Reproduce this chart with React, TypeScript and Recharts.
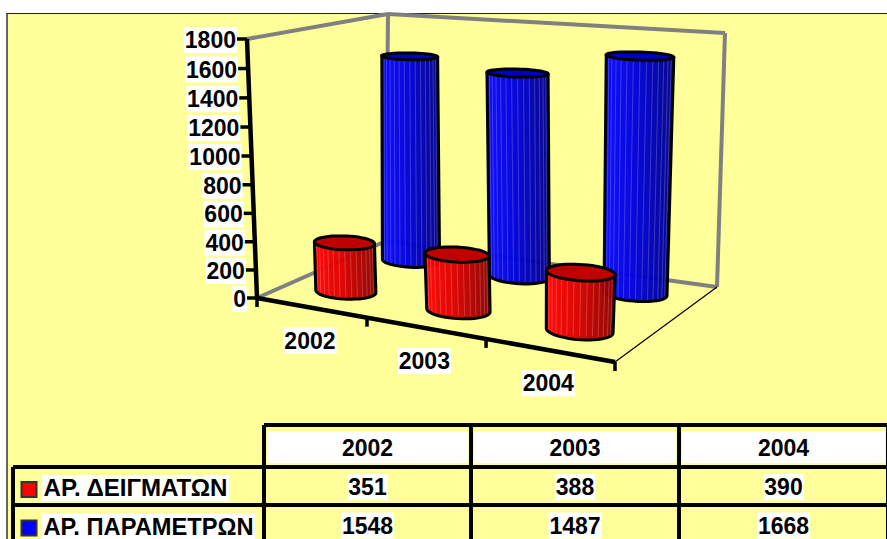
import { BarChart, Bar, XAxis, YAxis } from 'recharts'

const categories = ['2002', '2003', '2004']
const samples = [351, 388, 390]
const parameters = [1548, 1487, 1668]
const yTicks = [0, 200, 400, 600, 800, 1000, 1200, 1400, 1600, 1800]
const sampleLabel = 'ΑΡ. ΔΕΙΓΜΑΤΩΝ'
const parameterLabel = 'ΑΡ. ΠΑΡΑΜΕΤΡΩΝ'

const chartRows = categories.map((year, i) => ({ year, samples: samples[i], parameters: parameters[i] }))

const FONT = '"Liberation Sans", Arial, sans-serif'
const FS = 23
const PLOT = { left: 257, top: 39, width: 358, height: 259 }

type Pt = [number, number]

// homography from the unit square onto a quad: front-left, front-right, back-right, back-left
function quadMap([p0, p1, p2, p3]: Pt[]) {
  const dx1 = p1[0] - p2[0], dx2 = p3[0] - p2[0], dx3 = p0[0] - p1[0] + p2[0] - p3[0]
  const dy1 = p1[1] - p2[1], dy2 = p3[1] - p2[1], dy3 = p0[1] - p1[1] + p2[1] - p3[1]
  const den = dx1 * dy2 - dx2 * dy1
  const g = (dx3 * dy2 - dx2 * dy3) / den
  const h = (dx1 * dy3 - dx3 * dy1) / den
  const a = p1[0] - p0[0] + g * p1[0], b = p3[0] - p0[0] + h * p3[0]
  const d = p1[1] - p0[1] + g * p1[1], e = p3[1] - p0[1] + h * p3[1]
  return (u: number, v: number): Pt => {
    const w = g * u + h * v + 1
    return [(a * u + b * v + p0[0]) / w, (d * u + e * v + p0[1]) / w]
  }
}

const floorAt = quadMap([[257, 298], [615, 362], [717, 287], [386, 241]])
const ceilAt = quadMap([[247, 39], [630, 76], [725, 33], [388, 14]])

// u runs along the category axis, v into the depth of the box, z up the value axis.
// Both u and z get a little extra foreshortening on top of the two quads.
function project(u: number, v: number, z: number): Pt {
  const bend = u * (1 - u)
  const zz = z / (1.03 - 0.03 * z)
  const f = floorAt(u + 0.055 * bend, v)
  const c = ceilAt(u + 0.115 * bend, v)
  return [f[0] + (c[0] - f[0]) * zz, f[1] + (c[1] - f[1]) * zz]
}

const line = (a: Pt, b: Pt) => ({ x1: a[0], y1: a[1], x2: b[0], y2: b[1] })
const toPath = (pts: Pt[]) => pts.map((p, i) => `${i ? 'L' : 'M'}${p[0].toFixed(1)} ${p[1].toFixed(1)}`).join(' ')

function Cylinder({ x, width, height, depth, series }: any) {
  const u = (x + width / 2 - PLOT.left) / PLOT.width
  const z = height / PLOT.height
  const n = 48
  const ring = (zz: number) =>
    Array.from({ length: n }, (_, i) => {
      const t = (i / n) * Math.PI * 2
      return project(u + 0.083 * Math.cos(t), depth + 0.1 * Math.sin(t), zz)
    })
  const base = ring(0)
  const top = ring(z)
  let li = 0, ri = 0
  base.forEach((p, i) => {
    if (p[0] < base[li][0]) li = i
    if (p[0] > base[ri][0]) ri = i
  })
  const front: Pt[] = []
  for (let i = li; ; i = (i + 1) % n) {
    front.push(base[i])
    if (i === ri) break
  }
  const body = `${toPath(front)} L${top[ri][0]} ${top[ri][1]} L${top[li][0]} ${top[li][1]} Z`
  const stripes = Array.from({ length: 15 }, (_, i) => {
    const f = 0.5 - 0.5 * Math.cos(((i + 1) / 16) * Math.PI)
    const lo: Pt = [base[li][0] + (base[ri][0] - base[li][0]) * f, base[li][1] + (base[ri][1] - base[li][1]) * f + 5]
    const hi: Pt = [top[li][0] + (top[ri][0] - top[li][0]) * f, top[li][1] + (top[ri][1] - top[li][1]) * f]
    return <line key={i} {...line(lo, hi)} stroke="#ffffff" strokeOpacity={0.2} strokeWidth={1} />
  })
  return (
    <g>
      <path d={body} fill={`url(#${series}Body)`} fillOpacity={0.97} stroke="none" />
      {stripes}
      <path d={body} fill="none" stroke="#000" strokeWidth={3} strokeLinejoin="round" />
      <path d={toPath(top) + ' Z'} fill={series === 'red' ? '#c00000' : '#0000c0'} stroke="#000" strokeWidth={3} />
    </g>
  )
}

function Shade({ id, from, mid, to }: { id: string; from: string; mid: string; to: string }) {
  return (
    <linearGradient id={id} x1="0" y1="0" x2="1" y2="0">
      <stop offset="0" stopColor={from} />
      <stop offset="0.45" stopColor={mid} />
      <stop offset="1" stopColor={to} />
    </linearGradient>
  )
}

// text on its white label box, the way the chart's data labels are painted
function BoxedText({ x, y, text, anchor = 'middle', w, fit }: { x: number; y: number; text: string; anchor?: 'middle' | 'end' | 'start'; w?: number; fit?: number }) {
  const width = w ?? text.length * FS * 0.556 + 2
  const left = anchor === 'middle' ? x - width / 2 : anchor === 'end' ? x - width : x
  return (
    <g>
      <rect x={left} y={y - 13} width={width} height={26} fill="#fff" />
      <text
        x={anchor === 'middle' ? x : anchor === 'end' ? x - 1 : x + 1.5}
        y={y + 8}
        textAnchor={anchor}
        fontFamily={FONT}
        fontSize={FS}
        fontWeight="bold"
        fill="#000"
        textLength={fit}
        lengthAdjust={fit ? 'spacingAndGlyphs' : undefined}
      >
        {text}
      </text>
    </g>
  )
}

function ValueTick({ y, payload }: any) {
  const p = project(0, 0, (PLOT.top + PLOT.height - y) / PLOT.height)
  return (
    <g>
      <BoxedText x={p[0] - 10} y={p[1] + 1} text={String(payload.value)} anchor="end" />
      <line x1={p[0] - 10} y1={p[1]} x2={p[0]} y2={p[1]} stroke="#000" strokeWidth={3.5} />
    </g>
  )
}

function YearTick({ x, payload }: any) {
  const p = project((x - PLOT.left) / PLOT.width, 0, 0)
  return <BoxedText x={p[0] - 1} y={p[1] + 33} text={payload.value} />
}

function Box() {
  const grey = { stroke: '#808080', strokeWidth: 4 }
  return (
    <g>
      <line {...line(project(0, 0, 1), project(0, 1, 1))} {...grey} />
      <line {...line(project(0, 1, 1), project(1, 1, 1))} {...grey} />
      <line {...line(project(1, 1, 1), project(1, 1, 0))} {...grey} />
      <line {...line(project(0, 1, 1), project(0, 1, 0))} {...grey} />
      <line {...line(project(0, 0, 0), project(0, 1, 0))} {...grey} />
      <line {...line(project(0, 1, 0), project(1, 1, 0))} {...grey} />
      <line {...line(project(1, 0, 0), project(1, 1, 0))} stroke="#000" strokeWidth={1.2} />
    </g>
  )
}

function Axes() {
  return (
    <g>
      <line {...line(project(0, 0, 0), project(0, 0, 1))} stroke="#000" strokeWidth={4.5} />
      <line {...line(project(0, 0, 0), project(1, 0, 0))} stroke="#000" strokeWidth={4.5} />
      {[0, 1, 2, 3].map((i) => {
        const p = project(i / categories.length, 0, 0)
        return <line key={i} x1={p[0]} y1={p[1]} x2={p[0]} y2={p[1] + 9} stroke="#000" strokeWidth={3.5} />
      })}
    </g>
  )
}

// data table under the plot
function DataTable() {
  const cols = [264, 471, 679, 888]
  const rowLines = [425, 467, 505, 544]
  const rows = [
    { label: sampleLabel, values: samples, color: '#ff0000', w: 187, fit: 184 },
    { label: parameterLabel, values: parameters, color: '#0000ff', w: 213, fit: 210 },
  ]
  const black = { stroke: '#000', strokeWidth: 4 }
  return (
    <g>
      {categories.map((c, i) => (
        <g key={c}>
          <rect x={cols[i] + 3} y={431} width={cols[i + 1] - cols[i] - 6} height={32} fill="#fff" />
          <text
            x={(cols[i] + cols[i + 1]) / 2}
            y={456}
            textAnchor="middle"
            fontFamily={FONT}
            fontSize={FS}
            fontWeight="bold"
          >
            {c}
          </text>
        </g>
      ))}
      {rows.map((r, ri) => {
        const cy = (rowLines[ri + 1] + rowLines[ri + 2]) / 2
        return (
          <g key={r.label}>
            <rect x={21.5} y={cy - 4} width={15} height={15} fill={r.color} stroke="#333" strokeWidth={2} />
            <BoxedText x={42} y={cy + 2} text={r.label} anchor="start" w={r.w} fit={r.fit} />
            {r.values.map((v, i) => (
              <BoxedText key={i} x={(cols[i] + cols[i + 1]) / 2} y={cy + 1} text={String(v)} />
            ))}
          </g>
        )
      })}
      {cols.map((x) => (
        <line key={x} x1={x} y1={425} x2={x} y2={539} {...black} />
      ))}
      <line x1={13} y1={467} x2={13} y2={539} {...black} />
      <line x1={264} y1={rowLines[0]} x2={887} y2={rowLines[0]} {...black} />
      <line x1={13} y1={rowLines[1]} x2={887} y2={rowLines[1]} {...black} />
      <line x1={13} y1={rowLines[2]} x2={887} y2={rowLines[2]} {...black} />
    </g>
  )
}

export default function App() {
  return (
    <div style={{ position: 'absolute', left: 0, top: 0, width: 887, height: 539, overflow: 'hidden', background: '#fff' }}>
      <div
        style={{
          position: 'absolute',
          left: 6,
          top: 13,
          width: 881,
          height: 526,
          boxSizing: 'border-box',
          background: '#ffff99',
          borderTop: '1px solid #222',
          borderLeft: '2px solid #666',
        }}
      />
      <BarChart
        width={887}
        height={539}
        data={chartRows}
        margin={{ top: PLOT.top, left: PLOT.left - 1, right: 887 - PLOT.left - PLOT.width, bottom: 539 - PLOT.top - PLOT.height - 1 }}
        barSize={40}
        barGap={-40}
        style={{ position: 'absolute', left: 0, top: 0 }}
      >
        <defs>
          <Shade id="blueBody" from="#0808ff" mid="#0000dc" to="#00008c" />
          <Shade id="redBody" from="#ff0404" mid="#dc0000" to="#8c0000" />
        </defs>
        <Box />
        <XAxis dataKey="year" height={1} axisLine={false} tickLine={false} interval={0} tick={YearTick} />
        <YAxis
          domain={[0, 1800]}
          ticks={yTicks}
          width={1}
          interval={0}
          axisLine={false}
          tickLine={false}
          tick={ValueTick}
        />
        <Bar
          dataKey="parameters"
          isAnimationActive={false}
          shape={(p: any) => <Cylinder {...p} depth={0.77} series="blue" />}
        />
        <Bar
          dataKey="samples"
          isAnimationActive={false}
          shape={(p: any) => <Cylinder {...p} depth={0.25} series="red" />}
        />
        <Axes />
        <DataTable />
      </BarChart>
    </div>
  )
}
